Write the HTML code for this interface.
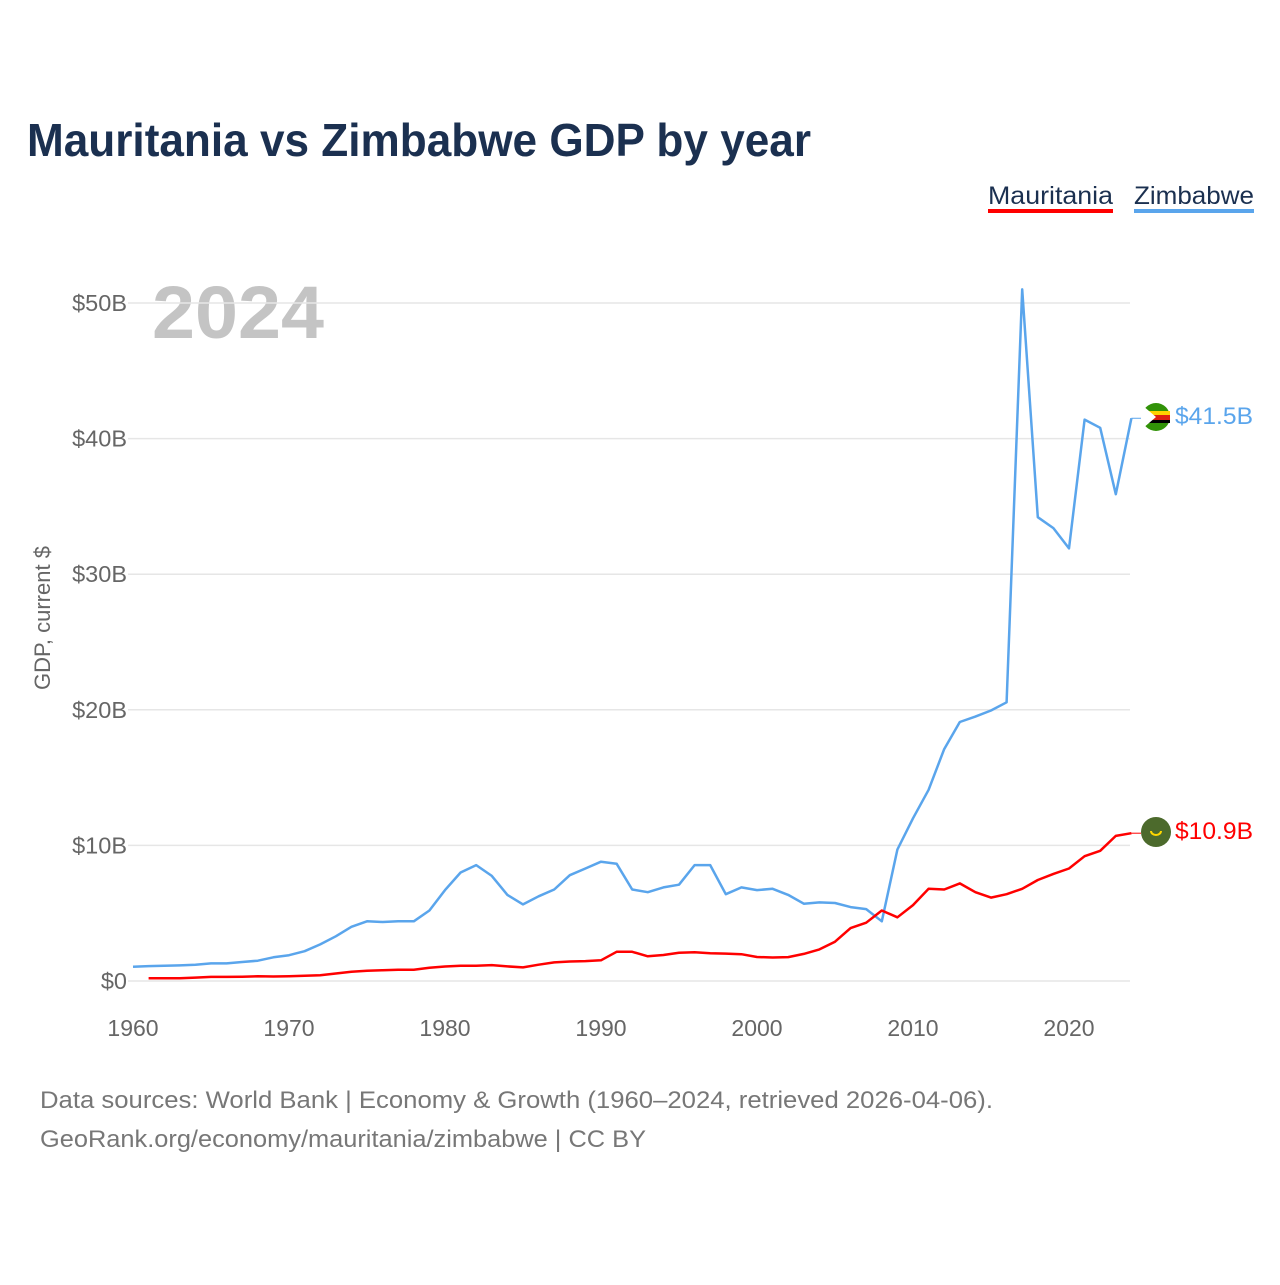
<!DOCTYPE html>
<html><head><meta charset="utf-8"><style>
body{margin:0;background:#fff;font-family:"Liberation Sans",sans-serif;}
svg text{font-family:"Liberation Sans",sans-serif;}
</style></head><body>
<svg id="chart" width="1280" height="1280" viewBox="0 0 1280 1280" xmlns="http://www.w3.org/2000/svg">
<text x="27" y="156" font-size="46" font-weight="bold" fill="#1b3050" textLength="784" lengthAdjust="spacingAndGlyphs">Mauritania vs Zimbabwe GDP by year</text>
<g><text x="988" y="204" font-size="25" fill="#1b3050" textLength="125" lengthAdjust="spacingAndGlyphs">Mauritania</text><rect x="988" y="209" width="125" height="4" fill="#ff0000"/></g>
<g><text x="1134" y="204" font-size="25" fill="#1b3050" textLength="120" lengthAdjust="spacingAndGlyphs">Zimbabwe</text><rect x="1134" y="209" width="120" height="4" fill="#5aa5ec"/></g>
<text x="152" y="338" font-size="74" font-weight="bold" fill="#c4c4c4" textLength="172" lengthAdjust="spacingAndGlyphs">2024</text>
<text transform="translate(50,618) rotate(-90)" text-anchor="middle" font-size="22" fill="#666">GDP, current $</text>
<g id="grid"></g><g id="yt"></g><g id="xt"></g><g id="lines"></g>
<g>
<circle cx="1156" cy="417" r="14" fill="#319208"/><rect x="1142" y="411" width="28" height="4" fill="#ffd200"/><rect x="1142" y="415" width="28" height="5" fill="#de2010"/><rect x="1142" y="420" width="28" height="3" fill="#000"/><path d="M1142,405 L1156,417 L1142,429 Z" fill="#fff"/></g>
<g><circle cx="1156" cy="832" r="15" fill="#4c6a2c"/><path d="M1151,831 a5,4 0 0 0 10,0" stroke="#ffd700" stroke-width="2" fill="none"/></g>
<text x="1175" y="424" font-size="24" fill="#5aa5ec" textLength="78" lengthAdjust="spacingAndGlyphs">$41.5B</text>
<text x="1175" y="839" font-size="24" fill="#ff0000" textLength="78" lengthAdjust="spacingAndGlyphs">$10.9B</text>
<text x="40" y="1108" font-size="24" fill="#777" textLength="953" lengthAdjust="spacingAndGlyphs">Data sources: World Bank | Economy &amp; Growth (1960–2024, retrieved 2026-04-06).</text>
<text x="40" y="1147" font-size="24" fill="#777" textLength="606" lengthAdjust="spacingAndGlyphs">GeoRank.org/economy/mauritania/zimbabwe | CC BY</text>
</svg>
<script>
const yTicks=[0,10,20,30,40,50];
const yTickLabels=["$0","$10B","$20B","$30B","$40B","$50B"];
const xTicks=[1960,1970,1980,1990,2000,2010,2020];
const zimYears=[];for(let y=1960;y<=2024;y++)zimYears.push(y);
const zimValues=[1.05,1.1,1.12,1.15,1.2,1.3,1.3,1.4,1.5,1.75,1.9,2.2,2.7,3.3,4.0,4.4,4.35,4.4,4.4,5.2,6.7,8.0,8.55,7.75,6.35,5.65,6.25,6.75,7.8,8.3,8.8,8.65,6.75,6.55,6.9,7.1,8.55,8.55,6.4,6.9,6.7,6.8,6.35,5.7,5.8,5.75,5.45,5.3,4.4,9.7,12.0,14.1,17.1,19.1,19.5,19.95,20.55,51.0,34.2,33.4,31.9,41.4,40.8,35.9,41.5];
const mrtYears=zimYears.slice(1);
const mrtValues=[0.2,0.2,0.2,0.25,0.3,0.3,0.32,0.35,0.33,0.35,0.38,0.43,0.55,0.68,0.75,0.8,0.83,0.83,0.98,1.07,1.12,1.12,1.17,1.08,1.0,1.2,1.37,1.44,1.47,1.53,2.15,2.15,1.82,1.92,2.08,2.12,2.05,2.02,1.98,1.77,1.73,1.76,2.0,2.33,2.9,3.9,4.3,5.2,4.7,5.6,6.8,6.75,7.2,6.55,6.15,6.4,6.8,7.45,7.9,8.3,9.2,9.6,10.7,10.9];
const NS="http://www.w3.org/2000/svg";
const xS=y=>133+(y-1960)*15.6;
const yS=v=>981-v*13.56;
function mk(tag,attrs,parent){const e=document.createElementNS(NS,tag);for(const k in attrs)e.setAttribute(k,attrs[k]);document.getElementById(parent).appendChild(e);return e;}
yTicks.forEach((t,i)=>{
 const l=mk('line',{x1:128,x2:1130,y1:yS(t),y2:yS(t),stroke:'#e6e6e6','stroke-width':1.5},'grid');
 
 
 const tx=mk('text',{x:127,y:yS(t)+8,'text-anchor':'end','font-size':23.5,fill:'#666'},'yt');
 tx.textContent=yTickLabels[i];
 
 
});
xTicks.forEach(t=>{
 const tx=mk('text',{x:xS(t),y:1036,'text-anchor':'middle','font-size':23,fill:'#666'},'xt');
 tx.textContent=t;
 
 
});
function line(xs,vs,col,name){
 const d=vs.map((v,i)=>(i?'L':'M')+xS(xs[i]).toFixed(1)+','+yS(v).toFixed(1)).join(' ');
 const p=mk('path',{d:d,fill:'none',stroke:col,'stroke-width':2.5,'stroke-linejoin':'round'},'lines');
 
 
 const last=vs[vs.length-1];
 mk('line',{x1:xS(xs[xs.length-1]),x2:1141,y1:yS(last),y2:yS(last),stroke:col,'stroke-width':1},'lines');
}
line(zimYears,zimValues,'#5aa5ec','zimbabwe-line');
line(mrtYears,mrtValues,'#ff0000','mauritania-line');
</script>
</body></html>
